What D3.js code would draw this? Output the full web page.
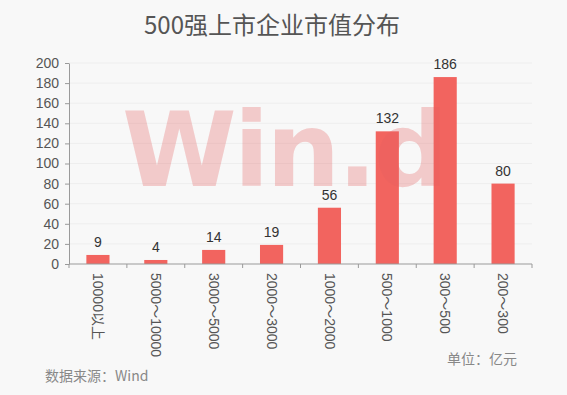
<!DOCTYPE html>
<html lang="zh">
<head>
<meta charset="utf-8">
<title>500强上市企业市值分布</title>
<script src="https://cdn.jsdelivr.net/npm/d3@7"></script>
<style>
  body { margin: 0; background: #f8f8f8; }
  svg { display: block; font-family: "Noto Sans CJK SC", "Liberation Sans", sans-serif; }
  .tick text { fill: #555; font-size: 14px; font-family: "Liberation Sans", "Noto Sans CJK SC", sans-serif; }
  .domain, .tick line { stroke: #9a9a9a; }
</style>
</head>
<body>
<svg></svg>
<script>
// data
const categories = ["10000以上", "5000～10000", "3000～5000", "2000～3000", "1000～2000", "500～1000", "300～500", "200～300"];
const counts = [9, 4, 14, 19, 56, 132, 186, 80];
const yTicks = [0, 20, 40, 60, 80, 100, 120, 140, 160, 180, 200];

const width = 567, height = 395;
const margin = {top: 63, right: 35, bottom: 131, left: 69};

const svg = d3.select("svg")
  .attr("width", width)
  .attr("height", height);

svg.append("rect")
  .attr("width", width).attr("height", height)
  .attr("fill", "#f8f8f8");

const x = d3.scaleBand()
  .domain(categories)
  .range([margin.left, width - margin.right])
  .paddingInner(0.6)
  .paddingOuter(0.3);

const y = d3.scaleLinear()
  .domain([0, 200])
  .range([height - margin.bottom, margin.top]);

// faint gridlines
svg.append("g")
  .selectAll("line")
  .data(yTicks.slice(1))
  .join("line")
  .attr("x1", margin.left).attr("x2", width - margin.right)
  .attr("y1", d => y(d)).attr("y2", d => y(d))
  .attr("stroke", "#eeeeee");

// bars
svg.append("g")
  .selectAll("rect")
  .data(counts)
  .join("rect")
  .attr("x", (d, i) => x(categories[i]))
  .attr("y", d => y(d))
  .attr("width", x.bandwidth())
  .attr("height", d => y(0) - y(d))
  .attr("fill", "#f2645f");

// watermark, drawn over the bars with transparency
svg.append("text")
  .attr("x", 122)
  .attr("y", 186)
  .attr("fill", "rgba(228, 95, 95, 0.3)")
  .style("font-family", "DejaVu Sans, sans-serif")
  .style("font-weight", "bold")
  .style("font-size", "104px")
  .style("letter-spacing", "-3px")
  .text("Win.d");

// value labels
svg.append("g")
  .selectAll("text")
  .data(counts)
  .join("text")
  .attr("x", (d, i) => x(categories[i]) + x.bandwidth() / 2)
  .attr("y", d => y(d) - 8)
  .attr("text-anchor", "middle")
  .attr("fill", "#333")
  .style("font-family", "Liberation Sans, sans-serif")
  .style("font-size", "14px")
  .text(d => d);

// y axis
svg.append("g")
  .attr("transform", `translate(${margin.left},0)`)
  .call(d3.axisLeft(y).tickValues(yTicks).tickSize(4).tickPadding(6).tickSizeOuter(0));

// x axis: ticks on band boundaries
const step = x.step();
const xg = svg.append("g");
xg.append("line")
  .attr("x1", margin.left).attr("x2", width - margin.right)
  .attr("y1", y(0)).attr("y2", y(0))
  .attr("stroke", "#9a9a9a");
xg.selectAll("line.tk")
  .data(d3.range(categories.length + 1))
  .join("line")
  .attr("class", "tk")
  .attr("x1", i => margin.left + i * step).attr("x2", i => margin.left + i * step)
  .attr("y1", y(0)).attr("y2", y(0) + 4)
  .attr("stroke", "#9a9a9a");

xg.selectAll("text")
  .data(categories)
  .join("text")
  .attr("transform", d => `translate(${x(d) + x.bandwidth() / 2},${y(0) + 9}) rotate(90)`)
  .attr("dy", "0.35em")
  .attr("fill", "#555")
  .style("font-family", "Liberation Sans, Noto Sans CJK SC, sans-serif")
  .style("font-size", "14px")
  .text(d => d);

// title
svg.append("text")
  .attr("x", 272)
  .attr("y", 34)
  .attr("text-anchor", "middle")
  .attr("fill", "#555")
  .style("font-size", "24px")
  .text("500强上市企业市值分布");

// footer
svg.append("text")
  .attr("x", 45)
  .attr("y", 381)
  .attr("fill", "#888")
  .style("font-size", "14px")
  .text("数据来源：Wind");

svg.append("text")
  .attr("x", 447)
  .attr("y", 364)
  .attr("fill", "#888")
  .style("font-size", "14px")
  .text("单位：亿元");
</script>
</body>
</html>
